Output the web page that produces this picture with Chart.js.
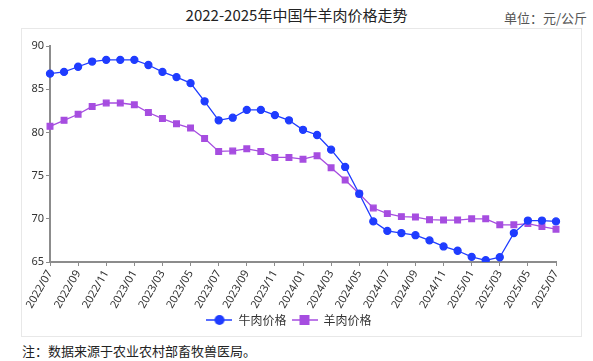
<!DOCTYPE html>
<html>
<head>
<meta charset="utf-8">
<script src="https://cdn.jsdelivr.net/npm/chart.js@4/dist/chart.umd.min.js"></script>
<style>
  html, body { margin: 0; padding: 0; background: #fff; }
  body { width: 593px; height: 361px; position: relative; overflow: hidden;
         font-family: "Noto Sans CJK SC", "Noto Sans", sans-serif; }
  #title { position: absolute; left: 0; top: 4px; width: 593px; text-align: center;
           font-size: 15px; color: #222; }
  #unit { position: absolute; right: 6px; top: 8px; font-size: 13px; color: #555; }
  #box { position: absolute; left: 21px; top: 28px; width: 561px; height: 309px;
         border: 1px solid #e8e8e8; box-sizing: border-box; }
  #note { position: absolute; left: 22px; top: 341px; font-size: 13px; color: #222; }
</style>
</head>
<body>
<div id="title">2022-2025年中国牛羊肉价格走势</div>
<div id="unit">单位：元/公斤</div>
<div id="box"><canvas id="priceChart"></canvas></div>
<div id="note">注：数据来源于农业农村部畜牧兽医局。</div>
<script>
const months = [
  "2022/07","2022/08","2022/09","2022/10","2022/11","2022/12",
  "2023/01","2023/02","2023/03","2023/04","2023/05","2023/06",
  "2023/07","2023/08","2023/09","2023/10","2023/11","2023/12",
  "2024/01","2024/02","2024/03","2024/04","2024/05","2024/06",
  "2024/07","2024/08","2024/09","2024/10","2024/11","2024/12",
  "2025/01","2025/02","2025/03","2025/04","2025/05","2025/06","2025/07"
];
const beef = [
  86.8, 87.0, 87.6, 88.2, 88.4, 88.4,
  88.4, 87.8, 87.0, 86.4, 85.7, 83.6,
  81.4, 81.7, 82.6, 82.6, 82.0, 81.4,
  80.3, 79.7, 78.0, 76.0, 72.9, 69.7,
  68.6, 68.35, 68.1, 67.5, 66.8, 66.3,
  65.6, 65.2, 65.55, 68.35, 69.8, 69.8, 69.7
];
const mutton = [
  80.7, 81.4, 82.1, 83.0, 83.4, 83.4,
  83.2, 82.3, 81.6, 81.0, 80.5, 79.3,
  77.8, 77.85, 78.1, 77.8, 77.1, 77.1,
  76.9, 77.3, 75.9, 74.5, 72.9, 71.25,
  70.6, 70.25, 70.2, 69.9, 69.85, 69.85,
  70.0, 70.0, 69.3, 69.3, 69.45, 69.1, 68.8
];
const seriesNames = ["牛肉价格", "羊肉价格"];
const seriesColors = ["#1f3cff", "#a64de0"];

// legend symbol: short line with the marker in the middle
function legendIcon(color, shape) {
  const c = document.createElement('canvas');
  c.width = 26; c.height = 12;
  const g = c.getContext('2d');
  g.strokeStyle = color; g.lineWidth = 1.5;
  g.beginPath(); g.moveTo(0, 6); g.lineTo(26, 6); g.stroke();
  g.fillStyle = color;
  if (shape === 'circle') {
    g.beginPath(); g.arc(13, 6, 5, 0, Math.PI * 2); g.fill();
  } else {
    g.fillRect(8, 1, 10, 10);
  }
  return c;
}
const icons = [legendIcon(seriesColors[0], 'circle'), legendIcon(seriesColors[1], 'rect')];

const axisColor = '#8c8c8c';

const config = {
  type: 'line',
  data: {
    labels: months,
    datasets: [
      {
        label: seriesNames[0],
        data: beef,
        borderColor: seriesColors[0],
        backgroundColor: seriesColors[0],
        borderWidth: 1.3,
        pointStyle: 'circle',
        pointRadius: 3.5,
        tension: 0
      },
      {
        label: seriesNames[1],
        data: mutton,
        borderColor: seriesColors[1],
        backgroundColor: seriesColors[1],
        borderWidth: 1.3,
        pointStyle: 'rect',
        pointRadius: 4,
        tension: 0
      }
    ]
  },
  options: {
    responsive: false,
    animation: false,
    layout: { padding: { left: 0, right: 25, top: 17, bottom: 0 } },
    scales: {
      x: {
        offset: false,
        grid: { display: true, drawOnChartArea: false, drawTicks: true, tickLength: 4, color: axisColor },
        border: { display: true, color: axisColor, width: 2 },
        ticks: {
          autoSkip: false,
          maxRotation: 60, minRotation: 60,
          color: '#333',
          font: { size: 11, family: 'Noto Sans' },
          padding: 2,
          callback: function (val, idx) {
            return idx % 2 === 0 ? this.getLabelForValue(val) : null;
          }
        },
        afterFit: s => { s.height = 47; }
      },
      y: {
        min: 65, max: 90,
        grid: { display: true, drawOnChartArea: false, drawTicks: true, tickLength: 4, color: axisColor },
        border: { display: true, color: axisColor, width: 2 },
        ticks: { stepSize: 5, color: '#333', font: { size: 11, family: 'Noto Sans' }, padding: 2 },
        afterFit: s => { s.width = 28; }
      }
    },
    plugins: {
      legend: {
        position: 'bottom',
        labels: {
          usePointStyle: true,
          pointStyleWidth: 26,
          boxHeight: 12,
          color: '#333',
          font: { size: 12, family: 'Noto Sans CJK SC' },
          padding: 5,
          generateLabels: chart => chart.data.datasets.map((ds, i) => ({
            text: ds.label,
            pointStyle: icons[i],
            fillStyle: ds.borderColor,
            strokeStyle: ds.borderColor,
            fontColor: '#333',
            datasetIndex: i,
            hidden: false
          }))
        }
      },
      tooltip: { enabled: false }
    }
  }
};

window.onload = function () {
  const cv = document.getElementById('priceChart');
  cv.width = 559; cv.height = 307;
  new Chart(cv.getContext('2d'), config);
};
</script>
</body>
</html>
